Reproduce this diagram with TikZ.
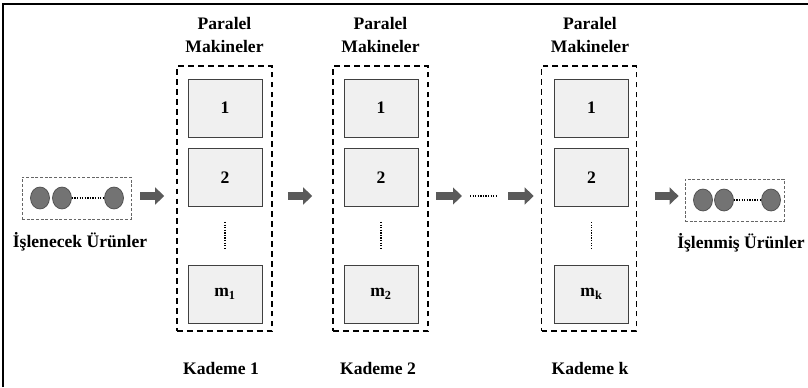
\documentclass[tikz,border=0pt]{standalone}
\usepackage{fontspec}
\setmainfont{Liberation Serif}
\usetikzlibrary{arrows.meta,shapes.geometric}

\definecolor{boxfill}{HTML}{F0F0F0}
\definecolor{boxline}{HTML}{404040}
\definecolor{itemfill}{HTML}{737373}
\definecolor{itemline}{HTML}{4D4D4D}
\definecolor{arrowgray}{HTML}{5A5A5A}

\begin{document}
\begin{tikzpicture}[x=0.03cm, y=-0.03cm,
  lbl/.style={font=\fontsize{15}{20}\selectfont\bfseries, align=center},
  stagebox/.style={draw, dash pattern=on 5pt off 3.5pt, line width=1.3pt, minimum width=2.85cm, minimum height=7.95cm},
  machine/.style={draw=boxline, fill=boxfill, line width=0.8pt, minimum width=2.22cm, minimum height=1.74cm, lbl},
  itembox/.style={draw=gray!80!black, dash pattern=on 2.5pt off 1.5pt, line width=0.6pt, minimum width=3.27cm, minimum height=1.26cm},
  item/.style={ellipse, draw=itemline, fill=itemfill, line width=0.6pt, inner sep=0pt, minimum width=0.57cm, minimum height=0.66cm},
  dots/.style={line width=1.1pt, dash pattern=on 1.1pt off 1.1pt},
  blockarrow/.style={arrowgray, line width=0.24cm, -{Triangle[length=0.27cm, width=0.5cm]}}]
\useasboundingbox (0,0) rectangle (808,387);

% cropped frame
\draw[line width=1.4pt] (3,387) -- (3,4) -- (808,4);

% input products
\node[itembox] (in) at (76.5,198) {};
\node[item] (ia) at (40,198) {};
\node[item] (ib) at (62,198) {};
\node[item] (ic) at (114,198) {};
\draw[dots] (ib) -- (ic);
\node[lbl] (inlbl) at (80,242) {İşlenecek Ürünler};

% stage 1
\node[stagebox] (s1) at (224.5,198.5) {};
\node[machine] (s1a) at (225,108) {1};
\node[machine] (s1b) at (225,177.5) {2};
\node[machine] (s1m) at (225,294) {m\textsubscript{1}};
\draw[dots, shorten <=0.45cm, shorten >=0.5cm] (s1b) -- (s1m);
\node[lbl] (s1t) at (224.5,35) {Paralel\\Makineler};
\node[lbl] (s1k) at (221,368) {Kademe 1};

% stage 2
\node[stagebox] (s2) at (380.5,198.5) {};
\node[machine] (s2a) at (381,108) {1};
\node[machine] (s2b) at (381,177.5) {2};
\node[machine] (s2m) at (381,294) {m\textsubscript{2}};
\draw[dots, shorten <=0.45cm, shorten >=0.5cm] (s2b) -- (s2m);
\node[lbl] (s2t) at (380.5,35) {Paralel\\Makineler};
\node[lbl] (s2k) at (378,368) {Kademe 2};

% stage k
\node[stagebox] (sk) at (589,198.5) {};
\node[machine] (ska) at (591.5,108) {1};
\node[machine] (skb) at (591.5,177.5) {2};
\node[machine] (skm) at (591.5,294) {m\textsubscript{k}};
\draw[dots, shorten <=0.45cm, shorten >=0.5cm] (skb) -- (skm);
\node[lbl] (skt) at (590,35) {Paralel\\Makineler};
\node[lbl] (skk) at (590,368) {Kademe k};

% finished products
\node[itembox, minimum width=2.97cm] (out) at (734.5,200) {};
\node[item] (oa) at (703,200) {};
\node[item] (ob) at (724,200) {};
\node[item] (oc) at (771,200) {};
\draw[dots] (ob) -- (oc);
\node[lbl] (outlbl) at (741,243) {İşlenmiş Ürünler};

% flow between stages
\coordinate (d1) at (470,196);
\coordinate (d2) at (497,196);
\draw[blockarrow, shorten <=0.27cm, shorten >=0.36cm] (in.east |- 0,196) -- (s1.west |- 0,196);
\draw[blockarrow, shorten <=0.45cm, shorten >=0.6cm] (s1.east |- 0,196) -- (s2.west |- 0,196);
\draw[blockarrow, shorten <=0.21cm, shorten >=0.24cm] (s2.east |- d1) -- (d1);
\draw[dots] (d1) -- (d2);
\draw[blockarrow, shorten <=0.33cm, shorten >=0.21cm] (d2) -- (sk.west |- d2);
\draw[blockarrow, shorten <=0.54cm, shorten >=0.18cm] (sk.east |- 0,196) -- (out.west |- 0,196);
\end{tikzpicture}
\end{document}
